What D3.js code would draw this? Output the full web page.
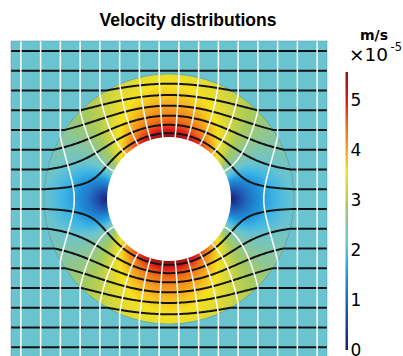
<!DOCTYPE html>
<html>
<head>
<meta charset="utf-8">
<script src="https://cdn.jsdelivr.net/npm/d3@7"></script>
<style>
  html, body { margin: 0; padding: 0; background: #fff; }
  svg { display: block; font-family: "DejaVu Sans", sans-serif; }
</style>
</head>
<body>
<svg id="chart" width="403" height="356"></svg>
<script>
// grid units: the square is 16 x 16, one unit per line spacing
const streamHeights = [-7.5, -6.5, -5.5, -4.5, -3.5, -2.5, -1.5, -0.5, 0.5, 1.5, 2.5, 3.5, 4.5, 5.5, 6.5, 7.5];
const potentialPositions = [-7.5, -6.5, -5.5, -4.5, -3.5, -2.5, -1.5, -0.5, 0.5, 1.5, 2.5, 3.5, 4.5, 5.5, 6.5, 7.5];
const ringRadii = [3.14, 6.33];       // hole radius, shell radius
const farSpeed = 2.1;                 // x1e-5 m/s, uniform flow outside the shell
const colorTicks = [0, 1, 2, 3, 4, 5];
const colorValues = [0, 0.5, 1, 1.5, 1.85, 2.1, 2.5, 2.9, 3.3, 3.6, 4.0, 4.5, 5.0, 5.57];
const colorHex = ["#1a1f73", "#1d3f9c", "#2166bd", "#1f93d9", "#3fb6e4", "#69c4cf", "#88c6a0",
                  "#a5ca5e", "#d8d83a", "#f5e11f", "#f6a620", "#f06a17", "#e0191b", "#8c1414"];

const svg = d3.select("#chart");
const plot = { x: 11, y: 41, size: 316 };

const x = d3.scaleLinear().domain([-8, 8]).range([plot.x, plot.x + plot.size]);
const y = d3.scaleLinear().domain([-8, 8]).range([plot.y + plot.size, plot.y]);
const color = d3.scaleLinear().domain(colorValues).range(colorHex).interpolate(d3.interpolateRgb).clamp(true);

const a = ringRadii[0], b = ringRadii[1];
const K = b * b / (b * b - a * a);   // neutral shell: flux scale
const D = b * b / (b * b + a * a);   // potential scale inside the shell

// speed inside the shell (impermeable hole, outside field undisturbed)
function speed(r, t) {
  if (r >= b) return farSpeed;
  const al = a * a / (r * r);
  const c = Math.cos(t), s = Math.sin(t);
  return farSpeed * K * Math.sqrt((1 - al) * (1 - al) * c * c + (1 + al) * (1 + al) * s * s);
}

// field image
const canvas = document.createElement("canvas");
canvas.width = plot.size; canvas.height = plot.size;
const ctx = canvas.getContext("2d");
const img = ctx.createImageData(plot.size, plot.size);
for (let j = 0; j < plot.size; j++) {
  for (let i = 0; i < plot.size; i++) {
    const X = x.invert(plot.x + i + 0.5), Y = y.invert(plot.y + j + 0.5);
    let r = Math.hypot(X, Y);
    if (r < a) r = a;
    const col = d3.rgb(color(speed(r, Math.atan2(Y, X))));
    const k = (j * plot.size + i) * 4;
    img.data[k] = col.r; img.data[k + 1] = col.g; img.data[k + 2] = col.b; img.data[k + 3] = 255;
  }
}
ctx.putImageData(img, 0, 0);

const defs = svg.append("defs");
defs.append("clipPath").attr("id", "shell")
  .append("circle").attr("cx", x(0)).attr("cy", y(0)).attr("r", x(b) - x(0));
defs.append("clipPath").attr("id", "square")
  .append("rect").attr("x", plot.x).attr("y", plot.y).attr("width", plot.size).attr("height", plot.size);

const g = svg.append("g").attr("clip-path", "url(#square)");

g.append("rect")
  .attr("x", plot.x).attr("y", plot.y).attr("width", plot.size).attr("height", plot.size)
  .attr("fill", color(farSpeed));

g.append("image")
  .attr("x", plot.x).attr("y", plot.y).attr("width", plot.size).attr("height", plot.size)
  .attr("href", canvas.toDataURL())
  .attr("clip-path", "url(#shell)");

g.append("circle")
  .attr("cx", x(0)).attr("cy", y(0)).attr("r", x(b) - x(0))
  .attr("fill", "none").attr("stroke", "#4d7f8c").attr("stroke-opacity", 0.55).attr("stroke-width", 0.8);

// streamlines
function streamline(c) {
  if (Math.abs(c) >= b) return [[[-8, c], [8, c]]];
  const s = Math.sign(c), cc = Math.abs(c);
  const tIn = Math.asin(cc / b);
  const pts = [[-8, c]];
  const N = 160;
  for (let i = 0; i <= N; i++) {
    const t = Math.PI - tIn - (Math.PI - 2 * tIn) * i / N;
    const q = cc / (K * Math.sin(t));
    const r = (q + Math.sqrt(q * q + 4 * a * a)) / 2;
    pts.push([r * Math.cos(t), s * r * Math.sin(t)]);
  }
  pts.push([8, c]);
  return [pts];
}

// equipotential lines (one or two pieces)
function potentialLine(d) {
  if (Math.abs(d) >= b) return [[[d, 8], [d, -8]]];
  const s = Math.sign(d), dd = Math.abs(d);
  const tIn = Math.acos(dd / b);
  if (dd >= 2 * a * D) {
    const pts = [[d, 8]];
    const N = 160;
    for (let i = 0; i <= N; i++) {
      const t = tIn - 2 * tIn * i / N;
      const p = dd / (D * Math.cos(t));
      const r = (p + Math.sqrt(Math.max(0, p * p - 4 * a * a))) / 2;
      pts.push([s * r * Math.cos(t), r * Math.sin(t)]);
    }
    pts.push([d, -8]);
    return [pts];
  }
  const top = [[d, 8]], bottom = [[d, -8]];
  const N = 120;
  for (let i = 0; i <= N; i++) {
    const r = b - (b - a) * i / N;
    const t = Math.acos(Math.min(1, dd / (D * (r + a * a / r))));
    top.push([s * r * Math.cos(t), r * Math.sin(t)]);
    bottom.push([s * r * Math.cos(t), -r * Math.sin(t)]);
  }
  return [top, bottom];
}

const line = d3.line().x(p => x(p[0])).y(p => y(p[1]));

g.append("g").selectAll("path")
  .data(streamHeights.flatMap(streamline))
  .join("path")
  .attr("d", line)
  .attr("fill", "none").attr("stroke", "#141414").attr("stroke-width", 2);

g.append("g").selectAll("path")
  .data(potentialPositions.flatMap(potentialLine))
  .join("path")
  .attr("d", line)
  .attr("fill", "none").attr("stroke", "#ffffff").attr("stroke-width", 1.5);

// hole
g.append("circle")
  .attr("cx", x(0)).attr("cy", y(0)).attr("r", x(a) - x(0))
  .attr("fill", "#ffffff");

svg.append("rect")
  .attr("x", plot.x).attr("y", plot.y).attr("width", plot.size).attr("height", plot.size)
  .attr("fill", "none").attr("stroke", "#5b8ea6").attr("stroke-opacity", 0.6).attr("stroke-width", 0.8);

// title
svg.append("text")
  .attr("x", 188).attr("y", 26)
  .attr("text-anchor", "middle")
  .attr("font-family", "'Liberation Sans', Arial, sans-serif")
  .attr("font-size", 17.5).attr("font-weight", "bold")
  .text("Velocity distributions");

// colour bar
const cy = d3.scaleLinear().domain([0, 5.57]).range([350, 72]);
const grad = defs.append("linearGradient").attr("id", "cbar")
  .attr("x1", 0).attr("y1", 1).attr("x2", 0).attr("y2", 0);
grad.selectAll("stop")
  .data(d3.range(0, 1.0001, 0.02))
  .join("stop")
  .attr("offset", t => t)
  .attr("stop-color", t => color(t * 5.57));

svg.append("rect")
  .attr("x", 345.5).attr("y", cy(5.57)).attr("width", 2.5).attr("height", cy(0) - cy(5.57))
  .attr("fill", "url(#cbar)");

svg.append("g").selectAll("text")
  .data(colorTicks)
  .join("text")
  .attr("x", 350.5).attr("y", v => cy(v) + 6)
  .attr("font-size", 17)
  .text(v => v);

svg.append("text")
  .attr("x", 374).attr("y", 40)
  .attr("text-anchor", "middle")
  .attr("font-size", 14).attr("font-weight", "bold")
  .text("m/s");

svg.append("text")
  .attr("x", 349).attr("y", 60.5).attr("font-size", 18.5)
  .text("×10");
svg.append("text")
  .attr("x", 390.5).attr("y", 51).attr("font-size", 11.5)
  .text("-5");
</script>
</body>
</html>
